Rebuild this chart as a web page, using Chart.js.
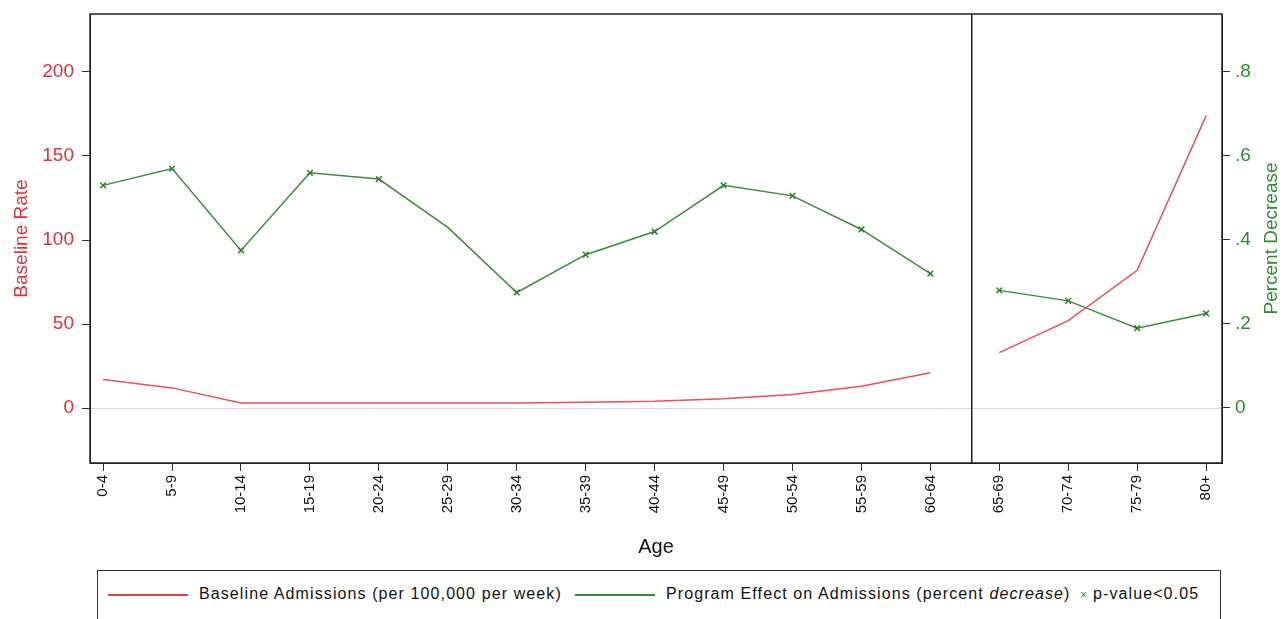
<!DOCTYPE html>
<html>
<head>
<meta charset="utf-8">
<script src="https://cdn.jsdelivr.net/npm/chart.js@4"></script>
<style>
  body { margin: 0; background: #fff; font-family: "Liberation Sans", Arial, sans-serif; }
  #wrap { position: relative; width: 1286px; height: 565px; }
  #legend { position: absolute; left: 97px; top: 570px; width: 1124px; height: 60px;
    border: 1px solid #333; box-sizing: border-box; font-family: "Liberation Sans", Arial, sans-serif;
    font-size: 16px; letter-spacing: 1.1px; color: #111; }
  #legend .ln { position: absolute; top: 23px; height: 0; border-top: 2px solid; }
  #legend .tx { position: absolute; top: 14px; white-space: nowrap; }
</style>
</head>
<body>
<div id="wrap"><canvas id="myChart"></canvas></div>
<div id="legend">
  <div class="ln" style="left:10px;width:80px;border-color:#d9434b"></div>
  <div class="tx" style="left:101px">Baseline Admissions (per 100,000 per week)</div>
  <div class="ln" style="left:477px;width:80px;border-color:#3d8a3d"></div>
  <div class="tx" style="left:568px">Program Effect on Admissions (percent <i>decrease</i>)</div>
  <div class="tx" style="left:982px;color:#3d8a3d;font-size:12px;top:17px">×</div>
  <div class="tx" style="left:995px">p-value&lt;0.05</div>
</div>
<script>
var ageGroups = ['0-4', '5-9', '10-14', '15-19', '20-24', '25-29', '30-34', '35-39', '40-44',
   '45-49', '50-54', '55-59', '60-64', '65-69', '70-74', '75-79', '80+'];
var baselineRate = [17, 12, 3, 3, 3, 3, 3, 3.5, 4, 5.5, 8, 13, 21, 33, 52, 82, 174];
var programEffect = [0.53, 0.57, 0.375, 0.56, 0.545, 0.43, 0.275, 0.365, 0.42, 0.53, 0.505, 0.425, 0.32,
   0.28, 0.255, 0.19, 0.225];
var significant = [1, 1, 1, 1, 1, 0, 1, 1, 1, 1, 1, 1, 1, 1, 1, 1, 1];
var leftTicks = [0, 50, 100, 150, 200];
var rightTicks = [0, 0.2, 0.4, 0.6, 0.8];

var red = '#e0303a';
var green = '#2e8b2e';

// break the lines between 60-64 and 65-69
var gapAt = 12;
function gapSegment(ctx) {
   return ctx.p0DataIndex === gapAt ? 'rgba(0,0,0,0)' : undefined;
}

var framePlugin = {
   id: 'frame',
   afterDraw: function(chart) {
      var ctx = chart.ctx;
      var ca = chart.chartArea;
      ctx.save();
      ctx.strokeStyle = '#222';
      ctx.lineWidth = 1.5;
      ctx.strokeRect(ca.left, ca.top, ca.right - ca.left, ca.bottom - ca.top);
      var xv = chart.scales.x.getPixelForValue(12.6);
      ctx.beginPath();
      ctx.moveTo(xv, ca.top);
      ctx.lineTo(xv, ca.bottom);
      ctx.stroke();
      // right axis title reads bottom to top
      ctx.translate(1272, (ca.top + ca.bottom) / 2);
      ctx.rotate(-Math.PI / 2);
      ctx.fillStyle = green;
      ctx.font = '19px "Liberation Sans", Arial, sans-serif';
      ctx.textAlign = 'center';
      ctx.textBaseline = 'middle';
      ctx.fillText('Percent Decrease', 0, 0);
      ctx.restore();
   }
};

function fixWidth(w) {
   return function(s) {
      s.width = w;
      s.paddingTop = 0;
      s.paddingBottom = 0;
   };
}

var ctx = document.getElementById('myChart').getContext('2d');
var chart = new Chart(ctx, {
   type: 'line',
   data: {
      datasets: [{
         label: 'Baseline Admissions (per 100,000 per week)',
         data: baselineRate.map(function(v, i) { return { x: i, y: v }; }),
         borderColor: '#e5505a',
         borderWidth: 1.5,
         pointRadius: 0,
         yAxisID: 'y',
         segment: { borderColor: gapSegment }
      }, {
         label: 'Program Effect on Admissions (percent decrease)',
         data: programEffect.map(function(v, i) { return { x: i, y: v }; }),
         borderColor: '#3d8a3d',
         borderWidth: 1.5,
         pointStyle: 'crossRot',
         pointRadius: significant.map(function(s) { return s ? 4 : 0; }),
         pointBorderColor: '#2e7d2e',
         pointBorderWidth: 1.5,
         yAxisID: 'y1',
         segment: { borderColor: gapSegment }
      }]
   },
   options: {
      responsive: true,
      maintainAspectRatio: false,
      animation: false,
      layout: { padding: { top: 14, bottom: 0, left: 0, right: 0 } },
      plugins: { legend: { display: false }, tooltip: { enabled: false } },
      scales: {
         x: {
            type: 'linear',
            min: -0.19,
            max: 16.23,
            afterFit: function(s) { s.height = 102; s.paddingLeft = 0; s.paddingRight = 0; },
            grid: { drawOnChartArea: false, tickLength: 8, tickColor: '#333' },
            border: { color: '#222' },
            ticks: {
               stepSize: 1,
               includeBounds: false,
               autoSkip: false,
               minRotation: 90,
               maxRotation: 90,
               padding: 4,
               color: '#111',
               font: { family: 'Liberation Sans', size: 15 },
               callback: function(v) { return ageGroups[v]; }
            },
            title: {
               display: true,
               text: 'Age',
               color: '#111',
               font: { family: 'Liberation Sans', size: 20 },
               padding: { top: 0, bottom: 6 }
            }
         },
         y: {
            position: 'left',
            min: -32.7,
            max: 234.5,
            afterFit: fixWidth(90),
            afterBuildTicks: function(s) { s.ticks = leftTicks.map(function(v) { return { value: v }; }); },
            grid: {
               tickLength: 8,
               tickColor: '#333',
               color: function(c) { return c.tick && c.tick.value === 0 ? '#d8d8d8' : 'rgba(0,0,0,0)'; }
            },
            border: { color: '#222' },
            ticks: {
               padding: 8,
               color: red,
               font: { family: 'Liberation Sans', size: 19 }
            },
            title: {
               display: true,
               text: 'Baseline Rate',
               color: red,
               font: { family: 'Liberation Sans', size: 19 },
               padding: { top: 10, bottom: 0 }
            }
         },
         y1: {
            position: 'right',
            min: -0.131,
            max: 0.938,
            afterFit: fixWidth(64),
            afterBuildTicks: function(s) { s.ticks = rightTicks.map(function(v) { return { value: v }; }); },
            grid: { drawOnChartArea: false, tickLength: 8, tickColor: '#333' },
            border: { color: '#222' },
            ticks: {
               padding: 5,
               color: green,
               font: { family: 'Liberation Sans', size: 19 },
               callback: function(v) { return v === 0 ? '0' : String(Math.round(v * 10) / 10).replace(/^0/, ''); }
            }
         }
      }
   },
   plugins: [framePlugin]
});
</script>
</body>
</html>
